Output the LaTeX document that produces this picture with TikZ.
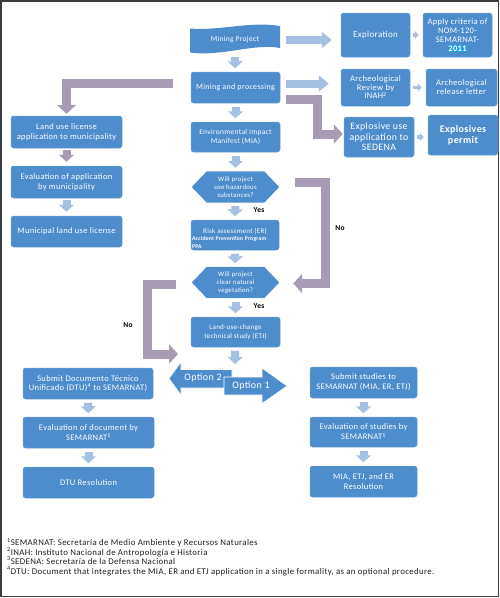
\documentclass[tikz,border=0pt]{standalone}
\usepackage{fontspec}
\setmainfont{Carlito}[LetterSpace=4]
\usetikzlibrary{arrows.meta,calc,backgrounds}
\definecolor{boxblue}{RGB}{77,141,204}
\definecolor{boxedge}{RGB}{105,160,215}
\definecolor{lblue}{RGB}{166,192,228}
\definecolor{pgrey}{RGB}{167,156,180}
\definecolor{hl}{RGB}{30,160,225}
\definecolor{framec}{RGB}{60,60,60}
\definecolor{fntxt}{RGB}{30,30,30}
\newcommand{\fsz}[2]{\fontsize{#1}{#2}\selectfont}
\begin{document}
\begin{tikzpicture}[x=1pt,y=-1pt,
  box/.style={draw=boxedge, line width=0.5pt, fill=boxblue, rounded corners=2.5pt,
              text=white, align=center, inner sep=0pt},
  plain/.style={text=white, align=center, inner sep=0pt},
  hexnode/.style={text=white, align=center, inner sep=0pt, minimum width=87pt, minimum height=31pt},
  darrow/.style={draw=lblue, line width=8pt, -{Triangle[width=15pt,length=7pt]},
                 shorten <=3.5pt, shorten >=3.5pt},
  dparrow/.style={darrow, draw=pgrey},
  harrow/.style={draw=lblue, line width=8pt, -{Triangle[width=16pt,length=10pt]},
                 shorten <=6pt, shorten >=9pt},
  sarrow/.style={draw=lblue, line width=3.5pt, -{Triangle[width=8pt,length=4pt]},
                 shorten <=3pt, shorten >=4pt},
  parrow/.style={draw=pgrey, line width=9pt, line join=miter,
                 -{Triangle[width=19pt,length=9pt]}},
  lab/.style={font=\bfseries\fsz{7.5}{8}, text=black, inner sep=0pt},
  optshape/.style={fill=boxblue, draw=white, line width=0.6pt}
]
\useasboundingbox (0,0) rectangle (500,598);
\draw[framec, line width=1.2pt] (1,1) rectangle (498.5,596.5);

% ---- centre column ----
\fill[boxblue] (190,28.5) .. controls (220,31) and (250,21) .. (280,26)
   -- (280,48) .. controls (255,43) and (220,57) .. (190,52.5) -- cycle;
\node[plain, minimum width=90pt, minimum height=27pt, font=\fsz{7.5}{8}] (mp) at (235,40) {Mining Project};
\node[box, minimum width=89pt, minimum height=31pt, font=\fsz{8}{9}] (mpr) at (235.5,87.5) {Mining and processing};
\node[box, minimum width=89pt, minimum height=30pt, font=\fsz{7.5}{9}] (mia) at (235.5,137) {Environmental Impact\\Manifest (MIA)};
\node[hexnode, font=\fsz{6.8}{8}] (h1) at (235.5,187) {Will project\\use hazardous\\substances?};
\node[box, minimum width=88pt, minimum height=30pt, align=left, font=\fsz{7}{8}] (er) at (235,235)
  {\rule{0pt}{11pt}\makebox[86pt][c]{Risk assessment (ER)}\\[-1pt]{\bfseries\fsz{5.7}{5.5}Accident Prevention Program}\\{\bfseries\fsz{5.7}{5.5}PPA}};
\node[hexnode, font=\fsz{6.8}{8}] (h2) at (235.5,282.5) {Will project\\clear natural\\vegetation?};
\node[box, minimum width=89pt, minimum height=30pt, font=\fsz{7}{8.5}] (etj) at (235.5,332) {Land-use-change\\technical study (ETJ)};

\begin{scope}[on background layer]
  \foreach \h in {h1,h2}{
    \fill[boxblue] (\h.west) -- ($(\h.north west)+(15,0)$) -- ($(\h.north east)+(-15,0)$)
      -- (\h.east) -- ($(\h.south east)+(-15,0)$) -- ($(\h.south west)+(15,0)$) -- cycle;
  }
\end{scope}

% ---- options ----
\path[optshape] (169,378.5) -- (181,362) -- (181,369.5) -- (232,369.5) -- (232,388)
   -- (181,388) -- (181,395) -- cycle;
\node[plain, font=\fsz{10}{11}] (o2) at (203,377.5) {Option 2};
\path[optshape] (224,377) -- (262,377) -- (262,368) -- (287,386) -- (262,403.5)
   -- (262,395) -- (224,395) -- cycle;
\node[plain, font=\fsz{10}{11}] (o1) at (251,386) {Option 1};
\coordinate (optin) at (235,364);

% ---- top right ----
\node[box, minimum width=69pt, minimum height=44pt, font=\fsz{9}{10}] (expl) at (375.5,35) {Exploration};
\node[box, minimum width=69pt, minimum height=44pt, font=\fsz{8.5}{9}] (apply) at (457.5,35)
  {Apply criteria of\\NOM-120-\\SEMARNAT-\\{\setlength{\fboxsep}{0.6pt}\colorbox{hl}{\bfseries 2011}}};
\node[box, minimum width=69pt, minimum height=37pt, font=\fsz{8.5}{8.5}] (arch) at (375.5,87.5) {Archeological\\Review by\\INAH\textsuperscript{2}};
\node[box, minimum width=71pt, minimum height=37pt, font=\fsz{8.5}{9}] (rel) at (461.5,87.5) {Archeological\\release letter};
\node[box, minimum width=70pt, minimum height=40pt, font=\fsz{9.8}{10.5}] (exu) at (379,137) {Explosive use\\application to\\SEDENA};
\node[box, minimum width=70pt, minimum height=40pt, font=\bfseries\fsz{10}{11}] (perm) at (463,135) {Explosives\\permit};

% ---- left column ----
\node[box, minimum width=111pt, minimum height=32pt, font=\fsz{8.5}{10}] (lu) at (66.5,132) {Land use license\\application to municipality};
\node[box, minimum width=111pt, minimum height=32pt, font=\fsz{8.5}{10}] (eva) at (66.5,182) {Evaluation of application\\by municipality};
\node[box, minimum width=111pt, minimum height=31pt, font=\fsz{8.5}{10}] (mlu) at (66.5,231.5) {Municipal land use license};

% ---- bottom left ----
\node[box, minimum width=130pt, minimum height=31pt, font=\fsz{8.5}{9.5}] (dtu) at (88,383.5) {Submit Documento Técnico\\Unificado (DTU)\textsuperscript{4} to SEMARNAT)};
\node[box, minimum width=131pt, minimum height=31pt, font=\fsz{8.5}{9.5}] (evd) at (88.5,432.5) {Evaluation of document by\\SEMARNAT\textsuperscript{1}};
\node[box, minimum width=131pt, minimum height=31pt, font=\fsz{8.5}{9.5}] (dtur) at (88.5,482.5) {DTU Resolution};

% ---- bottom right ----
\node[box, minimum width=107pt, minimum height=31pt, font=\fsz{8.5}{10}] (sub) at (363.5,382.5) {Submit studies to\\SEMARNAT (MIA, ER, ETJ)};
\node[box, minimum width=107pt, minimum height=30pt, font=\fsz{8.5}{10}] (evs) at (363.5,432) {Evaluation of studies by\\SEMARNAT\textsuperscript{1}};
\node[box, minimum width=107pt, minimum height=31pt, font=\fsz{8.5}{10}] (res) at (363.5,481.5) {MIA, ETJ, and ER\\Resolution};

% ---- connectors ----
\draw[darrow] (mp) -- (mpr);
\draw[darrow] (mpr) -- (mia);
\draw[darrow] (mia) -- (h1);
\draw[darrow] (h1) -- (er);
\draw[darrow] (er) -- (h2);
\draw[darrow] (h2) -- (etj);
\draw[darrow, shorten >=0pt] (etj) -- (optin);

\draw[harrow] (mp.east) -- (mp.east -| expl.west);
\draw[harrow, shorten >=12pt] ([yshift=4pt]mpr.east) -- ([yshift=4pt]mpr.east -| arch.west);
\draw[sarrow] (expl) -- (apply);
\draw[sarrow] (arch) -- (rel);
\draw[sarrow] (exu.east) -- (exu.east -| perm.west);

\coordinate (prc) at (317.5,120);
\draw[parrow, shorten <=6pt, shorten >=1pt] ([yshift=-11.5pt]mpr.east) -| (prc) |- ([yshift=3pt]exu.west);
\draw[parrow, shorten <=18pt, shorten >=2pt] ([yshift=4.5pt]mpr.west) -| (lu.north);

\draw[dparrow, shorten <=2pt, shorten >=4pt] (lu) -- (eva);
\draw[darrow, shorten <=2pt, shorten >=4pt] (eva) -- (mlu);

\draw[darrow] (dtu) -- (evd);
\draw[darrow] (evd) -- (dtur);
\draw[darrow] (sub) -- (evs);
\draw[darrow] (evs) -- (res);

\coordinate (nrc) at (325.5,230);
\draw[parrow, shorten <=16pt, shorten >=14pt] ([yshift=4.5pt]h1.east) -| (nrc) |- ([yshift=-1pt]h2.east);
\coordinate (nlc) at (147.5,354);
\coordinate (nlend) at (178,354);
\draw[parrow, shorten <=16pt] ([yshift=-2pt]h2.west) -| (nlc) -- (nlend);

\node[lab] (yes1) at (259,210) {Yes};
\node[lab] (yes2) at (259,306) {Yes};
\node[lab] (nor) at (340,228) {No};
\node[lab] (nol) at (128,325) {No};

% ---- footnotes ----
\node[anchor=north west, align=left, inner sep=0pt, text=fntxt, font={\fsz{8.8}{9.4}\lineskiplimit=-6pt}] (fn) at (7,538)
{\textsuperscript{1}SEMARNAT: Secretaría de Medio Ambiente y Recursos Naturales\\
\textsuperscript{2}INAH: Instituto Nacional de Antropología e Historia\\
\textsuperscript{3}SEDENA: Secretaría de la Defensa Nacional\\
\textsuperscript{4}DTU: Document that integrates the MIA, ER and ETJ application in a single formality, as an optional procedure.};
\end{tikzpicture}
\end{document}
